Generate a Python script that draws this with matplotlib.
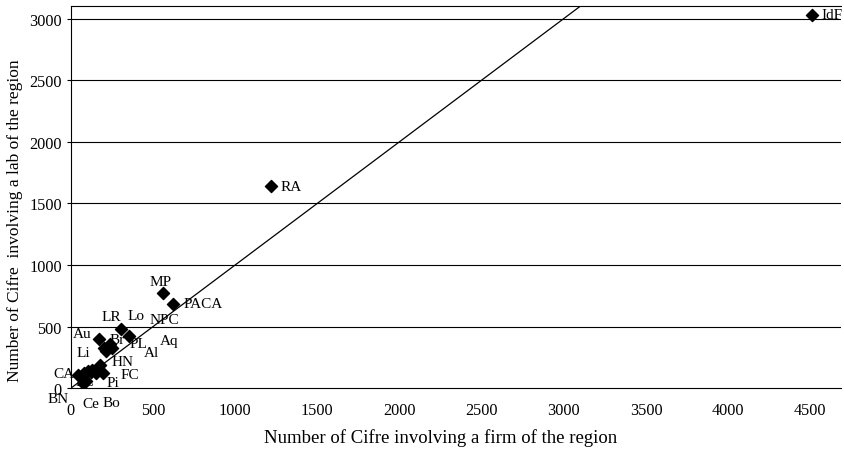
import matplotlib
matplotlib.use('Agg')
import matplotlib.pyplot as plt

# Regions: Cifre involving a firm (x) vs a lab (y) of the region
regions = ['IdF', 'RA', 'MP', 'PACA', 'LR', 'NPC', 'Au', 'Br', 'PL', 'Aq', 'Al',
           'Lo', 'HN', 'Pi', 'FC', 'CA', 'Li', 'PC', 'Bo', 'Ce', 'BN']
firm = [4510, 1215, 560, 622, 302, 353, 170, 241, 251, 199, 215,
        122, 178, 195, 150, 45, 80, 105, 130, 90, 75]
lab = [3030, 1638, 773, 687, 478, 424, 403, 362, 322, 327, 303,
       132, 185, 122, 125, 105, 120, 140, 150, 60, 40]

# where each label sits (data coords, left edge)
label_x = [4570, 1277, 480, 687, 189, 480, 12, 237, 359, 541, 444,
           347, 250, 219, 304, -109, 36, 30, 195, 67, -140]
label_y = [3033, 1638, 868, 689, 584, 560, 446, 397, 365, 389, 292,
           592, 219, 49, 114, 122, 292, 55, -114, -122, -80]

xticks = [0, 500, 1000, 1500, 2000, 2500, 3000, 3500, 4000, 4500]
yticks = [0, 500, 1000, 1500, 2000, 2500, 3000]

plt.rcParams['font.family'] = ['Liberation Serif', 'DejaVu Serif']

fig = plt.figure(figsize=(8.44, 4.52), dpi=100)
ax = fig.add_axes([0.084, 0.139, 0.913, 0.845])

# horizontal grid
for yv in yticks[1:]:
    ax.axhline(yv, color='black', lw=0.8, zorder=1)

# 45 degree line
ax.plot([0, 3200], [0, 3200], color='black', lw=0.9, zorder=2)

ax.scatter(firm, lab, marker='D', s=38, color='black', zorder=3)

for name, tx, ty in zip(regions, label_x, label_y):
    ax.text(tx, ty, name, fontsize=11, ha='left', va='center', clip_on=False)

ax.set_xlim(0, 4690)
ax.set_ylim(0, 3100)
ax.set_xticks(xticks)
ax.set_yticks(yticks)
ax.tick_params(axis='both', labelsize=11.7, length=3, color='black')
ax.tick_params(axis='x', length=0, pad=10)

ax.spines['right'].set_visible(False)
for s in ['left', 'bottom', 'top']:
    ax.spines[s].set_linewidth(0.8)

ax.set_xlabel('Number of Cifre involving a firm of the region', fontsize=13.5)
ax.set_ylabel('Number of Cifre  involving a lab of the region', fontsize=12.5)
ax.xaxis.set_label_coords(0.48, -0.105)
ax.yaxis.set_label_coords(-0.062, 0.44)

fig.savefig('out.png', dpi=100)
